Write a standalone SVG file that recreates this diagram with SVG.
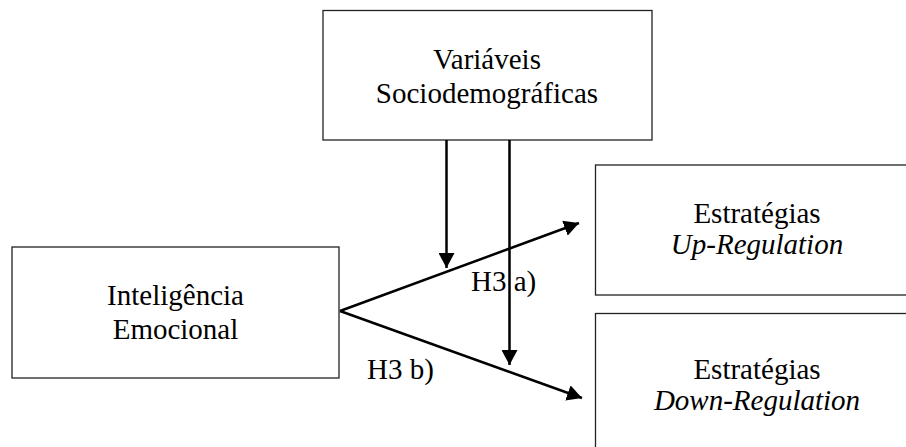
<svg xmlns="http://www.w3.org/2000/svg" width="906" height="447" viewBox="0 0 906 447">
  <style>
    .box { fill: #ffffff; stroke: #222222; stroke-width: 1.3; }
    .t { font-family: "Liberation Serif", "Times New Roman", serif; font-size: 29px; fill: #000000; text-anchor: middle; }
    .i { font-style: italic; }
    .lbl { font-family: "Liberation Serif", "Times New Roman", serif; font-size: 29px; fill: #000000; }
    .edge { stroke: #000000; stroke-width: 2.5; fill: none; marker-end: url(#ah); }
  </style>
  <defs>
    <marker id="ah" markerUnits="userSpaceOnUse" markerWidth="16" markerHeight="16" refX="15" refY="8" orient="auto">
      <path d="M0,0 L15,8 L0,16 Z" fill="#000000"/>
    </marker>
  </defs>
  <rect width="906" height="447" fill="#ffffff"/>

  <g id="node-sociodemograficas">
    <rect class="box" x="323" y="10.5" width="329" height="129.5"/>
    <text class="t" x="487" y="69">Variáveis</text>
    <text class="t" x="487" y="103">Sociodemográficas</text>
  </g>

  <g id="node-inteligencia">
    <rect class="box" x="12" y="247" width="327" height="131"/>
    <text class="t" x="175.5" y="305">Inteligência</text>
    <text class="t" x="175.5" y="339">Emocional</text>
  </g>

  <g id="node-up">
    <rect class="box" x="595.5" y="165" width="330" height="130"/>
    <text class="t" x="757" y="223">Estratégias</text>
    <text class="t i" x="757" y="254">Up-Regulation</text>
  </g>

  <g id="node-down">
    <rect class="box" x="595.5" y="313.5" width="330" height="150"/>
    <text class="t" x="757" y="379">Estratégias</text>
    <text class="t i" x="757" y="410">Down-Regulation</text>
  </g>

  <g id="connectors">
    <line class="edge" x1="446.5" y1="140" x2="446.5" y2="268"/>
    <line class="edge" x1="509.5" y1="140" x2="509.5" y2="365"/>
    <line class="edge" x1="340" y1="311" x2="579" y2="223"/>
    <line class="edge" x1="340" y1="311" x2="582" y2="398"/>
    <text class="lbl" x="471" y="291">H3 a)</text>
    <text class="lbl" x="367" y="379">H3 b)</text>
  </g>
</svg>
